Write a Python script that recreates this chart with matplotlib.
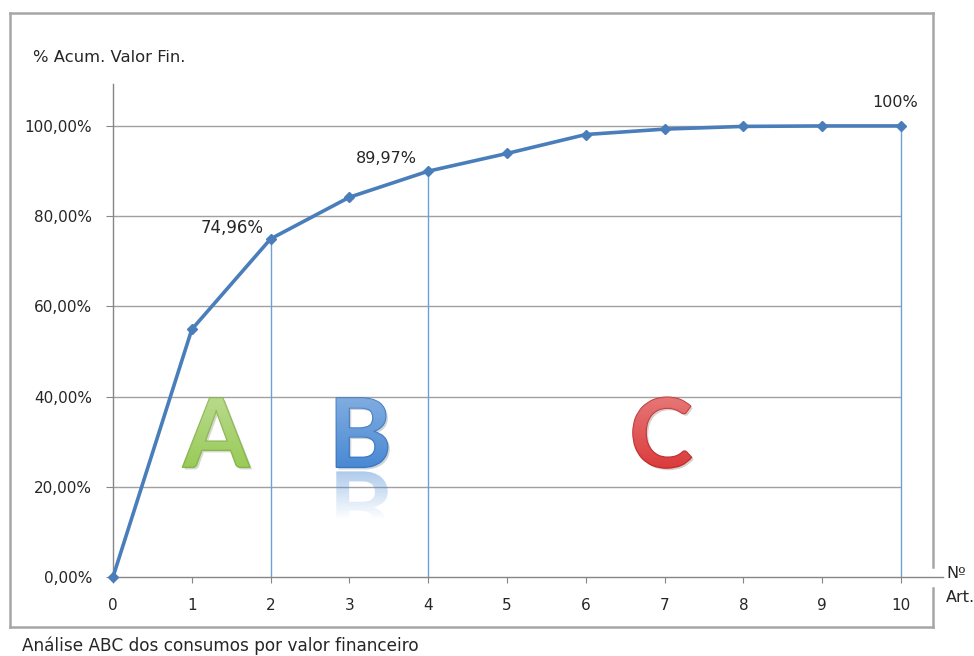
import matplotlib
matplotlib.use("Agg")
import matplotlib.pyplot as plt
import matplotlib.patheffects as pe
import matplotlib.transforms as mtransforms
from matplotlib.textpath import TextPath
from matplotlib.patches import PathPatch
from matplotlib.font_manager import FontProperties
from matplotlib.lines import Line2D
import numpy as np

# Curva ABC: % acumulado do valor financeiro por nº de artigos
artigos = [0, 1, 2, 3, 4, 5, 6, 7, 8, 9, 10]
pct_acum = [0, 54.9, 74.96, 84.2, 89.97, 93.9, 98.1, 99.3, 99.9, 100, 100]
cortes = [2, 4, 10]                 # fronteiras das classes A / B / C
yticks = [0, 20, 40, 60, 80, 100]
classes = ["A", "B", "C"]
classe_x = [1.31, 3.16, 6.97]
classe_y = 32.0

LINE = "#4A7EBB"
GRID = "#A0A0A0"
TXT = "#262626"

plt.rcParams["font.family"] = ["DejaVu Sans"]

W, H = 974, 656
fig = plt.figure(figsize=(W / 100, H / 100), dpi=100)
ax = fig.add_axes([113 / W, 79 / H, 830 / W, 493 / H])
ax.set_xlim(0, 830 / 78.8)
ax.set_ylim(0, 109.3)

# grelha horizontal só até ao último artigo
ax.hlines(yticks[1:], 0, artigos[-1], color=GRID, lw=1, zorder=1)

# linhas de corte das classes
for c in cortes:
    ax.vlines(c, 0, pct_acum[artigos.index(c)], color="#6F9FD8", lw=1, zorder=2)

ax.plot(artigos, pct_acum, color=LINE, lw=2.6, marker="D", ms=5.5,
        mec=LINE, mfc=LINE, zorder=4, clip_on=False)

# rótulos de valor nos pontos de corte
ax.annotate(f"{pct_acum[2]:.2f}%".replace(".", ","), (2, pct_acum[2]),
            xytext=(-5, 8), textcoords="offset points", ha="right", va="center",
            fontsize=12, color=TXT)
ax.annotate(f"{pct_acum[4]:.2f}%".replace(".", ","), (4, pct_acum[4]),
            xytext=(-30, 9), textcoords="offset points", ha="center", va="center",
            fontsize=11.5, color=TXT)
ax.annotate(f"{pct_acum[10]:.0f}%", (10, pct_acum[10]),
            xytext=(-4, 17), textcoords="offset points", ha="center", va="center",
            fontsize=11.5, color=TXT)

# eixos
for s in ["top", "right"]:
    ax.spines[s].set_visible(False)
for s in ["left", "bottom"]:
    ax.spines[s].set_color("#868686")
    ax.spines[s].set_linewidth(1)
ax.set_yticks(yticks)
ax.set_yticklabels([f"{v:.2f}%".replace(".", ",") for v in yticks])
ax.set_xticks(artigos)
ax.tick_params(axis="y", direction="out", length=5, color="#868686",
               pad=10, labelsize=11, labelcolor=TXT)
ax.tick_params(axis="x", direction="out", length=4, color="#868686",
               pad=11, labelsize=11, labelcolor=TXT)

fig.text(33 / W, 1 - 57 / H, "% Acum. Valor Fin.", fontsize=11.8,
         color=TXT, va="center", ha="left")
fig.text(946 / W, 1 - 573 / H, "Nº", fontsize=11.5, color=TXT,
         va="center", ha="left")
fig.text(946 / W, 1 - 597 / H, "Art.", fontsize=11.5, color=TXT,
         va="center", ha="left")
fig.text(22 / W, 1 - 646 / H, "Análise ABC dos consumos por valor financeiro",
         fontsize=12.2, color=TXT, va="center", ha="left")

# moldura da área do gráfico
bx0, bx1, by0, by1 = 10 / W, 933 / W, 1 - 627 / H, 1 - 13 / H
for xs, ys in [((bx0, bx1), (by1, by1)), ((bx0, bx0), (by0, by1)),
               ((bx0, bx1), (by0, by0)), ((bx1, bx1), (by0, 1 - 588 / H)),
               ((bx1, bx1), (1 - 567 / H, by1))]:
    fig.add_artist(Line2D(xs, ys, color="#A6A6A6", lw=1.8,
                          transform=fig.transFigure))

# letras das classes, desenhadas como caminhos
fp = FontProperties(family="Lato", weight="bold")
letter_style = {
    "A": dict(face="#9ACB5A", edge="#86B548"),
    "B": dict(face="#4A8AD4", edge="#3C78C0"),
    "C": dict(face="#DC3C3C", edge="#C22E2E"),
}


def letter_path(ch):
    tp = TextPath((0, 0), ch, size=96, prop=fp)
    ext = tp.get_extents()
    cx = (ext.x0 + ext.x1) / 2
    cy = (ext.y0 + ext.y1) / 2
    return tp, cx, cy, ext


for ch, lx in zip(classes, classe_x):
    st = letter_style[ch]
    tp, cx, cy, ext = letter_path(ch)
    off = mtransforms.ScaledTranslation(lx, classe_y, ax.transData)
    tr = mtransforms.Affine2D().translate(-cx, -cy) + off
    patch = PathPatch(tp, transform=tr, facecolor=st["face"],
                      edgecolor=st["edge"], lw=1.0, zorder=3,
                      path_effects=[pe.SimplePatchShadow(offset=(1.5, -1.5), alpha=0.2),
                                    pe.Normal()])
    ax.add_patch(patch)
    # gradiente de luz de cima para baixo
    img = np.ones((64, 1, 4))
    img[:, 0, 3] = np.linspace(0.3, 0.0, 64)
    h = (ext.y1 - ext.y0) / 4.51
    ax.imshow(img, extent=(lx - 0.45, lx + 0.45, classe_y - h / 2, classe_y + h / 2),
              aspect="auto", zorder=3.5, clip_path=patch, origin="upper")

    if ch == "B":
        # reflexo esbatido por baixo da letra
        h_px = ext.y1 - ext.y0
        reftr = (mtransforms.Affine2D().translate(-cx, -cy).scale(1, -1)
                 .translate(0, -h_px - 4) + off)
        ref = PathPatch(tp, transform=reftr, facecolor="none",
                        edgecolor="none", zorder=2.5)
        ax.add_patch(ref)
        rimg = np.zeros((64, 1, 4))
        rimg[:, 0, :3] = matplotlib.colors.to_rgb(st["face"])
        rimg[:, 0, 3] = np.linspace(0.45, 0.0, 64)
        top = classe_y - h_px / 2 / 4.51 - 1
        ax.imshow(rimg, extent=(lx - 0.45, lx + 0.45, top - h_px / 4.51 * 0.7, top),
                  aspect="auto", zorder=2.5, clip_path=ref, origin="upper")

ax.set_xlim(0, 830 / 78.8)
ax.set_ylim(0, 109.3)

fig.savefig("out.png", dpi=100)
